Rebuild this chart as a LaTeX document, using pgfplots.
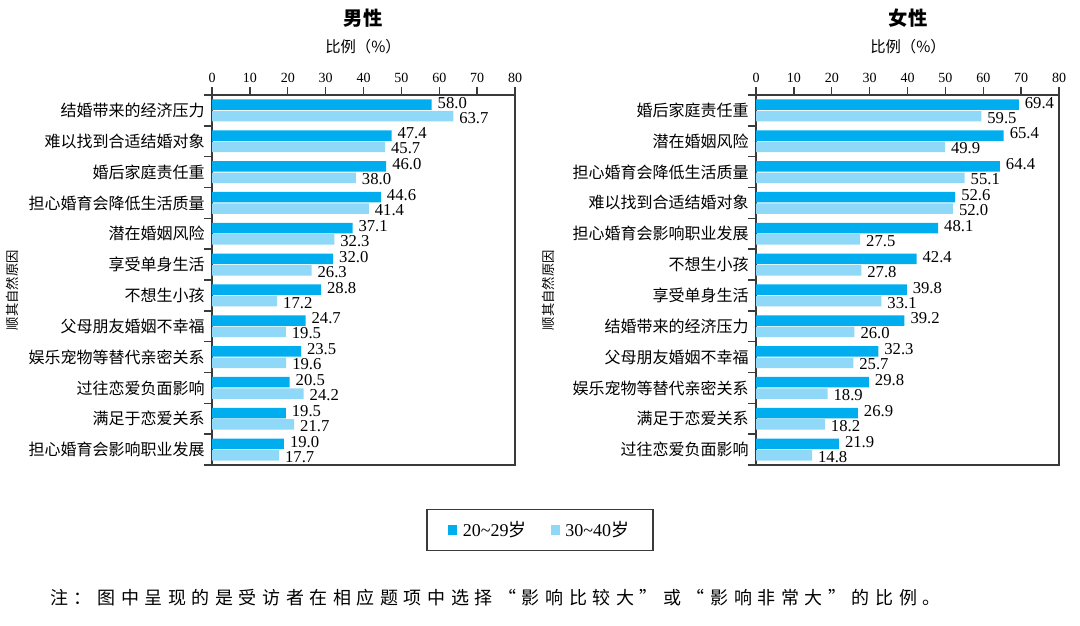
\documentclass[border=0pt]{standalone}
\usepackage{pgfplots}
\pgfplotsset{compat=1.18}
\usepackage{fontspec}
\setmainfont{Liberation Serif}
\newfontfamily\cjk{Noto Sans CJK SC}
\newfontfamily\cjkwide[LetterSpace=31]{Noto Sans CJK SC}
\definecolor{darkb}{HTML}{00AEEF}
\definecolor{lightb}{HTML}{8FD8F7}
\definecolor{axgray}{HTML}{3A3A3A}
\newcommand\fs[1]{\fontsize{#1}{#1}\selectfont}

\pgfplotsset{
  panel/.style={
    xbar, scale only axis, width=227.25pt, height=277.5pt,
    xmin=0, xmax=80, ymin=-0.5, ymax=11.5, y dir=reverse,
    xtick={0,10,...,80}, xtick pos=right, xticklabel pos=right,
    ytick={-0.5,0.5,...,11.5}, yticklabels={}, ytick pos=left,
    extra y ticks={0,1,...,11},
    extra y tick style={tick style={draw=none},
      yticklabel style={font=\cjk\fs{12}, xshift=4pt}},
    tick align=outside, major tick length=6pt,
    axis line style={axgray, line width=1.1pt},
    every tick/.style={axgray, line width=1.1pt},
    xticklabel style={font=\fs{10.5}, text=black},
    /pgf/number format/assume math mode=true,
    bar width=0.34,
    point meta=explicit symbolic,
    nodes near coords,
    every node near coord/.append style={font=\fs{12.5}, anchor=west, xshift=1pt, text=black},
    clip=false,
  },
  dk/.style={fill=darkb, draw=none, bar shift=-0.185,
    every node near coord/.append style={yshift=1.5pt}},
  lt/.style={fill=lightb, draw=none, bar shift=0.185,
    every node near coord/.append style={yshift=-1.2pt}},
}

\begin{document}
\begin{tikzpicture}
\useasboundingbox (0,0) rectangle (810pt,-468.75pt);

% ---------- Male ----------
\begin{axis}[panel, at={(159pt,-71.25pt)}, anchor=north west,
  extra y tick labels={结婚带来的经济压力,难以找到合适结婚对象,婚后家庭责任重,担心婚育会降低生活质量,潜在婚姻风险,享受单身生活,不想生小孩,父母朋友婚姻不幸福,娱乐宠物等替代亲密关系,过往恋爱负面影响,满足于恋爱关系,担心婚育会影响职业发展},
  legend style={at={(1.0825,-0.1757)}, anchor=center, legend columns=2,
    draw=axgray, line width=0.9pt, font=\fs{13.5},
    inner xsep=16pt, inner ysep=7pt,
    /tikz/every even column/.append style={column sep=16pt}},
  legend image code/.code={\path[#1, draw=none] (0pt,-3.4pt) rectangle (6.8pt,3.4pt); \path (9pt,0pt);},
]
\addplot[dk] coordinates {(58.0,0)[58.0] (47.4,1)[47.4] (46.0,2)[46.0] (44.6,3)[44.6] (37.1,4)[37.1] (32.0,5)[32.0] (28.8,6)[28.8] (24.7,7)[24.7] (23.5,8)[23.5] (20.5,9)[20.5] (19.5,10)[19.5] (19.0,11)[19.0]};
\addplot[lt] coordinates {(63.7,0)[63.7] (45.7,1)[45.7] (38.0,2)[38.0] (41.4,3)[41.4] (32.3,4)[32.3] (26.3,5)[26.3] (17.2,6)[17.2] (19.5,7)[19.5] (19.6,8)[19.6] (24.2,9)[24.2] (21.7,10)[21.7] (17.7,11)[17.7]};
\legend{20\textasciitilde 29{\cjk 岁}, 30\textasciitilde 40{\cjk 岁}}
\end{axis}

% ---------- Female ----------
\begin{axis}[panel, at={(567pt,-71.25pt)}, anchor=north west,
  extra y tick labels={婚后家庭责任重,潜在婚姻风险,担心婚育会降低生活质量,难以找到合适结婚对象,担心婚育会影响职业发展,不想生小孩,享受单身生活,结婚带来的经济压力,父母朋友婚姻不幸福,娱乐宠物等替代亲密关系,满足于恋爱关系,过往恋爱负面影响},
]
\addplot[dk] coordinates {(69.4,0)[69.4] (65.4,1)[65.4] (64.4,2)[64.4] (52.6,3)[52.6] (48.1,4)[48.1] (42.4,5)[42.4] (39.8,6)[39.8] (39.2,7)[39.2] (32.3,8)[32.3] (29.8,9)[29.8] (26.9,10)[26.9] (21.9,11)[21.9]};
\addplot[lt] coordinates {(59.5,0)[59.5] (49.9,1)[49.9] (55.1,2)[55.1] (52.0,3)[52.0] (27.5,4)[27.5] (27.8,5)[27.8] (33.1,6)[33.1] (26.0,7)[26.0] (25.7,8)[25.7] (18.9,9)[18.9] (18.2,10)[18.2] (14.8,11)[14.8]};
\end{axis}

% ---------- titles and labels ----------
\node[font=\cjk\bfseries\fs{14.5}] at (272.25pt,-13.5pt) {男性};
\node[font=\cjk\bfseries\fs{14.5}] at (681pt,-13.5pt) {女性};
\node[font=\cjk\fs{11.5}] at (272.25pt,-35.25pt) {比例（\%）};
\node[font=\cjk\fs{11.5}] at (681pt,-35.25pt) {比例（\%）};
\node[font=\cjk\fs{10}, rotate=90] at (9pt,-217.5pt) {顺其自然原因};
\node[font=\cjk\fs{10}, rotate=90] at (411pt,-217.5pt) {顺其自然原因};
\node[font=\cjkwide\fs{13.5}, anchor=west, inner sep=0pt] at (37.5pt,-448.5pt) {注：图中呈现的是受访者在相应题项中选择“影响比较大”或“影响非常大”的比例。};
\end{tikzpicture}
\end{document}
